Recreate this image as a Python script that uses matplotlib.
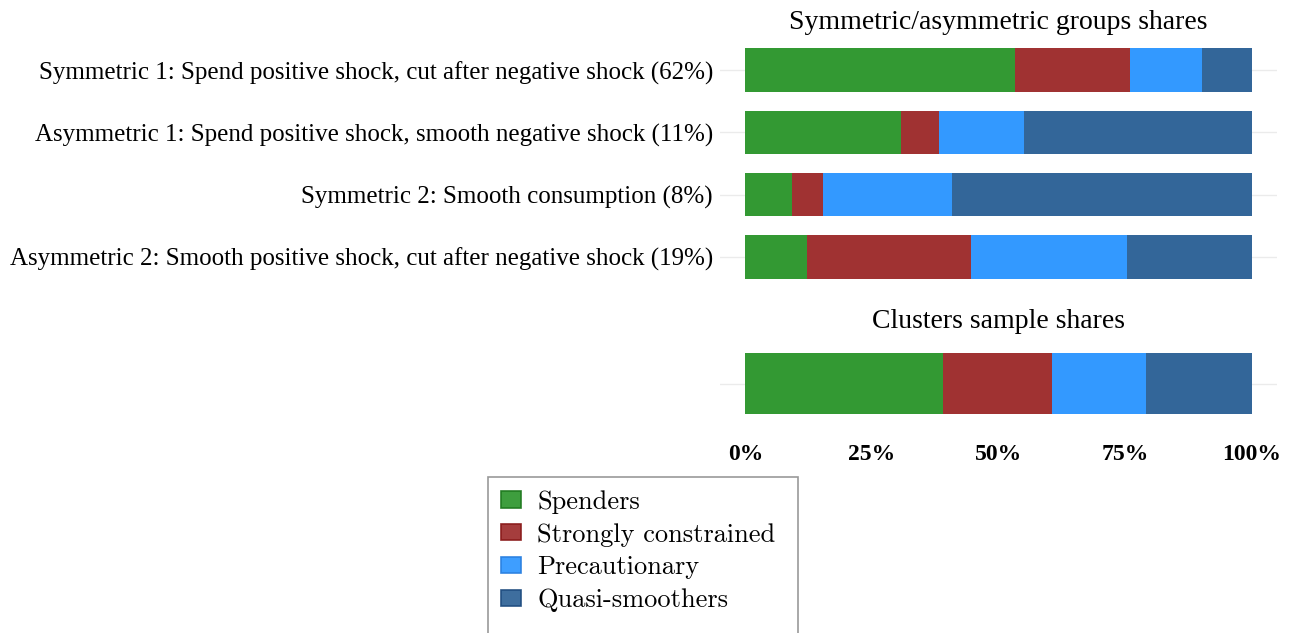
import matplotlib
matplotlib.use('Agg')
import matplotlib.pyplot as plt
from matplotlib.patches import Patch

groups = [
    "Symmetric 1: Spend positive shock, cut after negative shock (62%)",
    "Asymmetric 1: Spend positive shock, smooth negative shock (11%)",
    "Symmetric 2: Smooth consumption (8%)",
    "Asymmetric 2: Smooth positive shock, cut after negative shock (19%)",
]
spenders = [53.3, 30.7, 9.3, 12.1]
strongly = [22.6, 7.6, 6.1, 32.4]
precautionary = [14.2, 16.8, 25.5, 30.8]
quasi = [9.9, 44.9, 59.1, 24.7]

sample_spenders = [39.1]
sample_strongly = [21.4]
sample_precautionary = [18.6]
sample_quasi = [20.9]

series_names = ["Spenders", "Strongly constrained", "Precautionary", "Quasi-smoothers"]
colors = ["#339933", "#a03232", "#3399ff", "#336699"]
edge_colors = ["#1f7a1f", "#8a1a1a", "#2a80e0", "#1f4d80"]
xticks = [0, 25, 50, 75, 100]
xticklabels = ["0%", "25%", "50%", "75%", "100%"]

W, H = 1293, 633
fig = plt.figure(figsize=(W / 100, H / 100), dpi=100)
serif = "Liberation Serif"

ax1 = fig.add_axes([720 / W, 1 - 288 / H, 557 / W, 249 / H])
ax2 = fig.add_axes([720 / W, 1 - 427 / H, 557 / W, 87 / H])


def stacked(ax, ypos, data):
    left = [0] * len(ypos)
    for vals, c in zip(data, colors):
        ax.barh(ypos, vals, left=left, height=0.7, color=c, zorder=2)
        left = [l + v for l, v in zip(left, vals)]


ypos = list(range(len(groups)))
stacked(ax1, ypos, [spenders, strongly, precautionary, quasi])
ax1.set_ylim(len(groups) - 0.5, -0.5)
ax1.set_yticks(ypos)
ax1.set_yticklabels(groups, fontsize=18, family=serif)
ax1.set_xticks([])
ax1.set_title("Symmetric/asymmetric groups shares", fontsize=20, family=serif, pad=7)

stacked(ax2, [0], [sample_spenders, sample_strongly, sample_precautionary, sample_quasi])
ax2.set_ylim(-0.5, 0.5)
ax2.set_yticks([0])
ax2.set_yticklabels([""])
ax2.set_xticks(xticks)
ax2.set_xticklabels(xticklabels, fontsize=17, family=serif, fontweight='bold')
ax2.set_title("Clusters sample shares", fontsize=20, family=serif, pad=9)

for ax in (ax1, ax2):
    ax.set_xlim(-5, 105)
    for s in ax.spines.values():
        s.set_visible(False)
    ax.tick_params(length=0, pad=5)
    ax.grid(axis='y', color='#ebebeb', linewidth=1, zorder=0)
    ax.grid(axis='x', visible=False)
    ax.set_axisbelow(True)
ax2.tick_params(axis='x', pad=12)

handles = [Patch(facecolor=c, edgecolor=e, alpha=0.95, linewidth=1.2) for c, e in zip(colors, edge_colors)]
handles.append(Patch(facecolor='none', edgecolor='none'))
labels = series_names + [" "]
leg = fig.legend(handles, labels, loc='upper left',
                 bbox_to_anchor=(488 / W, 0, 310 / W, 1 - 477 / H),
                 mode='expand',
                 prop={'family': 'cmr10', 'size': 19},
                 frameon=True, fancybox=False, framealpha=1,
                 edgecolor='#999999', borderpad=0.5, labelspacing=0.34,
                 handlelength=0.76, handleheight=0.57, handletextpad=0.6,
                 borderaxespad=0)
leg.get_frame().set_linewidth(1.2)

fig.savefig("out.png", dpi=100)
